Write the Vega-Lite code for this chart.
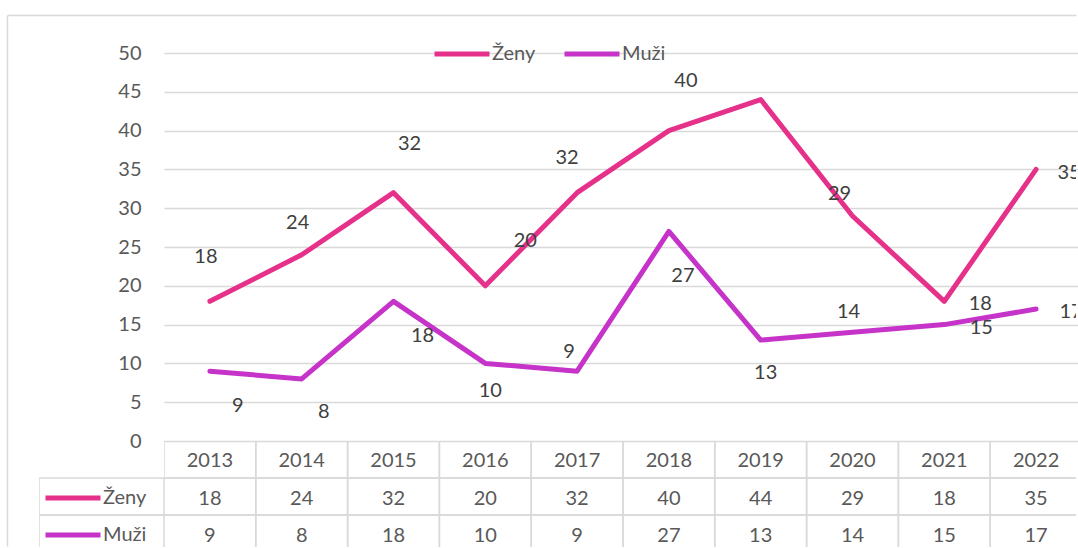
{
  "$schema": "https://vega.github.io/schema/vega-lite/v6.json",
  "padding": {"left": 7, "top": 15, "right": 0, "bottom": 0},
  "background": "white",
  "datasets": {
    "main": [
      {"year": 2013, "series": "Ženy", "value": 18},
      {"year": 2014, "series": "Ženy", "value": 24},
      {"year": 2015, "series": "Ženy", "value": 32},
      {"year": 2016, "series": "Ženy", "value": 20},
      {"year": 2017, "series": "Ženy", "value": 32},
      {"year": 2018, "series": "Ženy", "value": 40},
      {"year": 2019, "series": "Ženy", "value": 44},
      {"year": 2020, "series": "Ženy", "value": 29},
      {"year": 2021, "series": "Ženy", "value": 18},
      {"year": 2022, "series": "Ženy", "value": 35},
      {"year": 2013, "series": "Muži", "value": 9},
      {"year": 2014, "series": "Muži", "value": 8},
      {"year": 2015, "series": "Muži", "value": 18},
      {"year": 2016, "series": "Muži", "value": 10},
      {"year": 2017, "series": "Muži", "value": 9},
      {"year": 2018, "series": "Muži", "value": 27},
      {"year": 2019, "series": "Muži", "value": 13},
      {"year": 2020, "series": "Muži", "value": 14},
      {"year": 2021, "series": "Muži", "value": 15},
      {"year": 2022, "series": "Muži", "value": 17}
    ]
  },
  "columns": 2,
  "spacing": 0,
  "bounds": "flush",
  "concat": [
    {
      "width": 125,
      "height": 388,
      "data": {"values": []},
      "mark": "point",
      "encoding": {
        "x": {"field": "fx", "type": "quantitative", "scale": {"domain": [0, 1], "range": [-32, 1037]},
          "axis": {"orient": "top", "offset": 38, "domain": true, "domainColor": "#D9D9D9", "domainWidth": 1.5, "ticks": false, "labels": false, "grid": false, "title": null}},
        "y": {"field": "fy", "type": "quantitative", "scale": {"domain": [0, 1], "range": [493, -38]},
          "axis": {"orient": "left", "offset": 32, "domain": true, "domainColor": "#D9D9D9", "domainWidth": 1.5, "ticks": false, "labels": false, "grid": false, "title": null}}
      }
    },
    {
      "width": 912,
      "height": 388,
      "data": {"name": "main"},
      "encoding": {
        "x": {"field": "year", "type": "ordinal", "sort": "ascending", "scale": {"type": "point", "range": [0, 918], "padding": 0.5}, "axis": null},
        "y": {"field": "value", "type": "quantitative", "scale": {"domain": [0, 50], "nice": false},
          "axis": {"values": [0, 5, 10, 15, 20, 25, 30, 35, 40, 45, 50], "grid": true, "gridColor": "#D9D9D9", "gridWidth": 1.5, "domain": false, "ticks": false, "tickSize": 0, "labelPadding": 23, "labelFontSize": 20, "labelColor": "#595959", "labelFont": "Lato", "title": null}},
        "color": {"field": "series", "type": "nominal", "scale": {"domain": ["Ženy", "Muži"], "range": ["#E6318B", "#C633C8"]},
          "legend": {"orient": "none", "direction": "horizontal", "legendX": 288, "legendY": -9, "labelOffset": 20, "columnPadding": 18}}
      },
      "layer": [
        {"mark": {"type": "line", "strokeWidth": 5, "strokeCap": "round", "strokeJoin": "round", "clip": true}},
        {
          "mark": {"type": "text", "fontSize": 20, "font": "Lato", "align": "center", "baseline": "middle", "clip": true,
            "dx": {"expr": "datum.series == 'Ženy' ? [-4,-4,16,40,-10,17,29,-13,36,33][datum.year-2013] : [28,22,29,5,-8,14,5,-4,37,35][datum.year-2013]"},
            "dy": {"expr": "datum.series == 'Ženy' ? [-44,-32,-49,-45,-35,-50,-53,-22,3,4][datum.year-2013] : [35,33,35,28,-19,45,33,-20,3,3][datum.year-2013]"}},
          "encoding": {"text": {"field": "value", "type": "quantitative"}, "color": {"value": "#404040"}}
        }
      ]
    },
    {
      "width": 125,
      "height": 106,
      "data": {"name": "main"},
      "transform": [{"filter": "datum.year == 2013"}],
      "encoding": {
        "y": {"field": "series", "type": "nominal", "scale": {"type": "band", "domain": ["Rok", "Ženy", "Muži"], "range": [0, 111], "paddingInner": 0, "paddingOuter": 0}, "axis": null}
      },
      "layer": [
        {"mark": {"type": "rect", "filled": false, "stroke": "#D9D9D9", "strokeWidth": 1.5, "clip": true}},
        {
          "mark": {"type": "line", "strokeWidth": 0},
          "encoding": {"color": {"field": "series", "type": "nominal",
            "legend": {"orient": "none", "direction": "vertical", "legendX": 24, "legendY": 47, "labelOffset": 20, "rowPadding": 17}}}
        }
      ]
    },
    {
      "width": 912,
      "height": 106,
      "data": {"name": "main"},
      "encoding": {
        "x": {"field": "year", "type": "ordinal", "sort": "ascending", "scale": {"type": "band", "range": [0, 918], "paddingInner": 0, "paddingOuter": 0}, "axis": null}
      },
      "layer": [
        {
          "mark": {"type": "rect", "filled": false, "stroke": "#D9D9D9", "strokeWidth": 1.5, "clip": true},
          "encoding": {"y": {"field": "series", "type": "nominal", "scale": {"type": "band", "domain": ["Rok", "Ženy", "Muži"], "range": [0, 111], "paddingInner": 0, "paddingOuter": 0}, "axis": null}}
        },
        {
          "transform": [{"filter": "datum.series == 'Ženy'"}],
          "mark": {"type": "rect", "filled": false, "stroke": "#D9D9D9", "strokeWidth": 1.5, "clip": true},
          "encoding": {"y": {"datum": "Rok", "type": "nominal"}}
        },
        {
          "mark": {"type": "text", "fontSize": 20, "font": "Lato", "color": "#595959", "align": "center", "baseline": "middle", "dy": 2, "clip": true},
          "encoding": {"y": {"field": "series", "type": "nominal"}, "text": {"field": "value", "type": "quantitative"}}
        },
        {
          "transform": [{"filter": "datum.series == 'Ženy'"}],
          "mark": {"type": "text", "fontSize": 20, "font": "Lato", "color": "#595959", "align": "center", "baseline": "middle", "dy": 1, "clip": true},
          "encoding": {"y": {"datum": "Rok", "type": "nominal"}, "text": {"field": "year", "type": "ordinal"}}
        }
      ]
    }
  ],
  "resolve": {"scale": {"color": "shared"}, "legend": {"color": "independent"}},
  "config": {
    "font": "Lato",
    "view": {"stroke": null},
    "legend": {
      "symbolType": "M-5.5,0H5.5",
      "symbolSize": 100,
      "symbolStrokeWidth": 5,
      "labelFontSize": 20,
      "labelFont": "Lato",
      "labelColor": "#595959",
      "title": null,
      "padding": 0
    }
  }
}
